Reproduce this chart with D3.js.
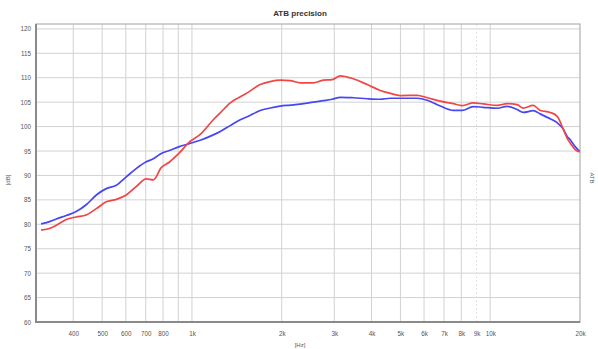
<html>
<head>
<meta charset="utf-8">
<style>
  body { margin: 0; background: #fff; }
  svg text { font-family: "Liberation Sans", Arial, sans-serif; }
</style>
</head>
<body>
<svg width="598" height="349"></svg>
<script src="https://cdn.jsdelivr.net/npm/d3@7/dist/d3.min.js"></script>
<script>
// frequency points (Hz)
const freqs = [312, 335, 351, 379, 409, 442, 478, 516, 558, 602, 650, 703, 742, 789, 839, 907, 979,
  1066, 1179, 1244, 1344, 1452, 1532, 1694, 1830, 1977, 2136, 2307, 2551, 2755, 2953, 3142, 3473,
  3870, 4280, 4622, 4993, 5692, 6150, 6799, 7516, 8056, 8770, 9474, 10560, 11400, 12310, 12900,
  13940, 14710, 15890, 16770, 17570, 18120, 18540, 19270, 19950];

const blueDb = [80.1, 80.6, 81.1, 81.8, 82.6, 84.0, 86.0, 87.3, 88.0, 89.7, 91.4, 92.8, 93.4, 94.5, 95.1, 95.9, 96.5,
  97.2, 98.3, 99.0, 100.2, 101.4, 102.0, 103.3, 103.8, 104.2, 104.4, 104.6, 105.0, 105.3, 105.6, 106.0, 105.9,
  105.7, 105.6, 105.8, 105.8, 105.8, 105.4, 104.2, 103.3, 103.3, 104.1, 103.95, 103.75, 104.15, 103.5, 102.9,
  103.25, 102.6, 101.6, 100.8, 99.5, 98.0, 97.3, 95.9, 94.9];

const redDb = [78.8, 79.2, 79.8, 81.0, 81.5, 81.9, 83.2, 84.6, 85.1, 86.0, 87.7, 89.3, 89.1, 91.6, 92.7, 94.6, 96.8,
  98.4, 101.4, 102.8, 104.85, 106.1, 106.9, 108.6, 109.2, 109.5, 109.4, 108.95, 108.95, 109.5, 109.6, 110.4, 109.8,
  108.6, 107.4, 106.8, 106.35, 106.4, 105.9, 105.2, 104.7, 104.3, 104.85, 104.65, 104.35, 104.7, 104.5, 103.8,
  104.35, 103.3, 102.9, 102.1, 99.5, 97.6, 96.65, 95.3, 94.8];

const yTicks = [60, 65, 70, 75, 80, 85, 90, 95, 100, 105, 110, 115, 120];
const xGrid = [400, 500, 600, 700, 800, 900, 1000, 2000, 3000, 4000, 5000, 6000, 7000, 8000, 9000, 10000];
const xTicks = [400, 500, 600, 700, 800, 1000, 2000, 3000, 4000, 5000, 6000, 7000, 8000, 9000, 10000, 20000];
const xLabels = ["400", "500", "600", "700", "800", "1k", "2k", "3k", "4k", "5k", "6k", "7k", "8k", "9k", "10k", "20k"];

const svg = d3.select('svg');
const mLeft = 36, mRight = 580, mTop = 24, mBottom = 322;

const x = d3.scaleLog().domain([300, 20000]).range([mLeft, mRight]);
const y = d3.scaleLinear().domain([60, 121]).range([mBottom, mTop]);

// grid
const grid = svg.append('g');
grid.selectAll('line.h')
  .data(yTicks)
  .enter().append('line')
  .attr('x1', mLeft).attr('x2', mRight)
  .attr('y1', d => y(d)).attr('y2', d => y(d))
  .attr('stroke', '#d2d2d2').attr('stroke-width', 1);

grid.selectAll('line.v')
  .data(xGrid)
  .enter().append('line')
  .attr('x1', d => x(d)).attr('x2', d => x(d))
  .attr('y1', mTop).attr('y2', mBottom)
  .attr('stroke', d => d === 9000 ? '#e0e0e0' : '#d2d2d2').attr('stroke-width', 1)
  .attr('stroke-dasharray', d => d === 9000 ? '2,2' : null);

// frame
svg.append('rect')
  .attr('x', mLeft).attr('y', mTop)
  .attr('width', mRight - mLeft).attr('height', mBottom - mTop)
  .attr('fill', 'none').attr('stroke', '#b0b0b0').attr('stroke-width', 1.2);
svg.append('path')
  .attr('d', `M${mLeft},${mTop} V${mBottom} H${mRight}`)
  .attr('fill', 'none').attr('stroke', '#8a8a8a').attr('stroke-width', 2);

// axes labels
const yAxis = d3.axisLeft(y).tickValues(yTicks).tickSize(0).tickPadding(5);
svg.append('g')
  .attr('transform', `translate(${mLeft},0)`)
  .call(yAxis)
  .call(g => g.select('.domain').remove())
  .selectAll('text')
  .attr('font-size', 6.3).attr('fill', '#555');

const xAxis = d3.axisBottom(x).tickValues(xTicks).tickSize(0).tickPadding(10)
  .tickFormat((d, i) => xLabels[i]);
svg.append('g')
  .attr('transform', `translate(0,${mBottom})`)
  .call(xAxis)
  .call(g => g.select('.domain').remove())
  .selectAll('text')
  .attr('font-size', 6.3).attr('fill', '#555');

// curves
const line = d3.line()
  .x((d, i) => x(freqs[i]))
  .y(d => y(d))
  .curve(d3.curveMonotoneX);

svg.append('path')
  .datum(blueDb)
  .attr('d', line)
  .attr('fill', 'none').attr('stroke', '#4646f2').attr('stroke-width', 1.7);

svg.append('path')
  .datum(redDb)
  .attr('d', line)
  .attr('fill', 'none').attr('stroke', '#f24646').attr('stroke-width', 1.7);

// titles
svg.append('text')
  .attr('x', 300).attr('y', 16)
  .attr('text-anchor', 'middle')
  .attr('font-size', 8).attr('font-weight', 'bold').attr('fill', '#333')
  .text('ATB precision');

svg.append('text')
  .attr('x', 300).attr('y', 347)
  .attr('text-anchor', 'middle')
  .attr('font-size', 6).attr('fill', '#555')
  .text('[Hz]');

svg.append('text')
  .attr('transform', 'translate(10,180) rotate(-90)')
  .attr('text-anchor', 'middle')
  .attr('font-size', 6).attr('fill', '#555')
  .text('[dB]');

svg.append('text')
  .attr('transform', 'translate(590,178) rotate(90)')
  .attr('text-anchor', 'middle')
  .attr('font-size', 6).attr('fill', '#555')
  .text('ATB');
</script>
</body>
</html>
